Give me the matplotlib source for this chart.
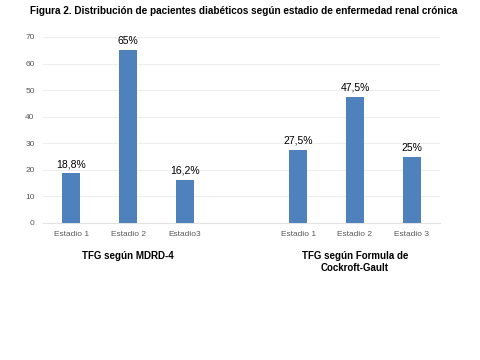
import numpy as np
import matplotlib
matplotlib.use("Agg")
import matplotlib.pyplot as plt

plt.rcParams["font.family"] = ["Liberation Sans", "DejaVu Sans"]

# data
positions = [0, 1, 2, 4, 5, 6]
tick_labels = ["Estadio 1", "Estadio 2", "Estadio3", "Estadio 1", "Estadio 2", "Estadio 3"]
values = [18.8, 65, 16.2, 27.5, 47.5, 25]
value_labels = ["18,8%", "65%", "16,2%", "27,5%", "47,5%", "25%"]
group_labels = ["TFG según MDRD-4", "TFG según Formula de\nCockroft-Gault"]
group_centers = [1, 5]

fig = plt.figure(figsize=(4.8, 3.6), dpi=100)
ax = fig.add_axes([0.0896, 0.3806, 0.8271, 0.5167])

ax.bar(positions, values, width=0.32, color="#4F81BD", zorder=3)
for x, v, lab in zip(positions, values, value_labels):
    ax.text(x, v + 1.5, lab, ha="center", va="bottom", fontsize=7.5, color="black")

ax.set_xlim(-0.5, 6.5)
ax.set_ylim(0, 70)
ax.set_yticks(np.arange(0, 71, 10))
ax.set_xticks(positions)
ax.set_xticklabels(tick_labels)
ax.tick_params(axis="both", length=0, labelsize=6, colors="#595959", pad=6)
ax.grid(axis="y", color="#EEEEEE", linewidth=0.8, zorder=0)
for s in ["top", "right", "left"]:
    ax.spines[s].set_visible(False)
ax.spines["bottom"].set_color("#E3E3E3")
ax.spines["bottom"].set_linewidth(0.8)

# group labels below the axis
for c, g in zip(group_centers, group_labels):
    xf = fig.transFigure.inverted().transform(ax.transData.transform((c, 0)))[0]
    fig.text(xf, 1 - 251 / 360, g, ha="center", va="top", fontsize=7, fontweight="bold")

fig.text(0.508, 1 - 11 / 360, "Figura 2. Distribución de pacientes diabéticos según estadio de enfermedad renal crónica",
         ha="center", va="center", fontsize=7.2, fontweight="bold")

fig.savefig("out.png", dpi=100)
